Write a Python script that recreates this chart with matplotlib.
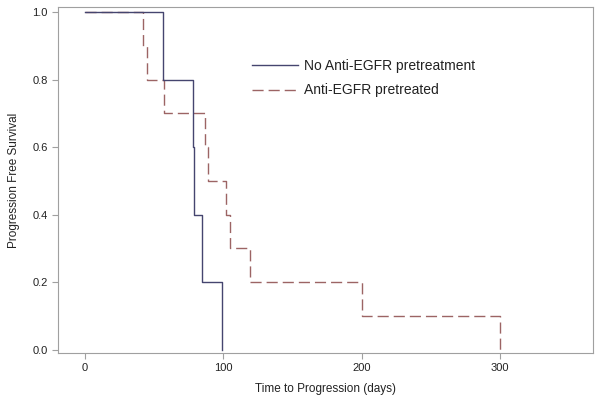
import numpy as np
import matplotlib
matplotlib.use('Agg')
import matplotlib.pyplot as plt

plt.rcParams['font.family'] = ['Liberation Sans', 'DejaVu Sans']

# Kaplan-Meier steps
t_no = [0, 56, 78, 79, 84.5, 99]
s_no = [1.0, 0.8, 0.6, 0.4, 0.2, 0.0]

t_pre = [0, 42, 45, 57, 87, 89, 102, 105, 119, 200, 300]
s_pre = [1.0, 0.9, 0.8, 0.7, 0.6, 0.5, 0.4, 0.3, 0.2, 0.1, 0.0]

labels = ['No Anti-EGFR pretreatment', 'Anti-EGFR pretreated']
xticks = [0, 100, 200, 300]
yticks = [0.0, 0.2, 0.4, 0.6, 0.8, 1.0]

fig = plt.figure(figsize=(6.01, 4.05), dpi=100)
ax = fig.add_axes([58/601, 1 - 353/405, (593 - 58)/601, (353 - 7)/405])

ax.step(t_no, s_no, where='post', color='#45456f', lw=1.0, label=labels[0], zorder=3)
ax.step(t_pre, s_pre, where='post', color='#9c6464', lw=1.0,
        dashes=(8, 3.6), label=labels[1], zorder=2)

ax.set_xlim(-19.5, 367)
ax.set_ylim(-0.01, 1.015)
ax.set_xticks(xticks)
ax.set_yticks(yticks)
ax.set_yticklabels(['%.1f' % v for v in yticks])

for sp in ax.spines.values():
    sp.set_color('#a0a0a0')
ax.tick_params(colors='#a0a0a0', labelcolor='#222222', labelsize=8, length=4, direction='out')

ax.set_xlabel('Time to Progression (days)', fontsize=8.5, color='#222222', labelpad=7)
ax.set_ylabel('Progression Free Survival', fontsize=8.5, color='#222222', labelpad=9)

leg = ax.legend(loc='upper left', bbox_to_anchor=(245/601, 1 - 52/405),
                bbox_transform=fig.transFigure, frameon=False, fontsize=10,
                handlelength=3.3, handletextpad=0.45, borderpad=0, labelspacing=0.75)
for txt in leg.get_texts():
    txt.set_color('#222222')

fig.savefig('out.png', dpi=100)
